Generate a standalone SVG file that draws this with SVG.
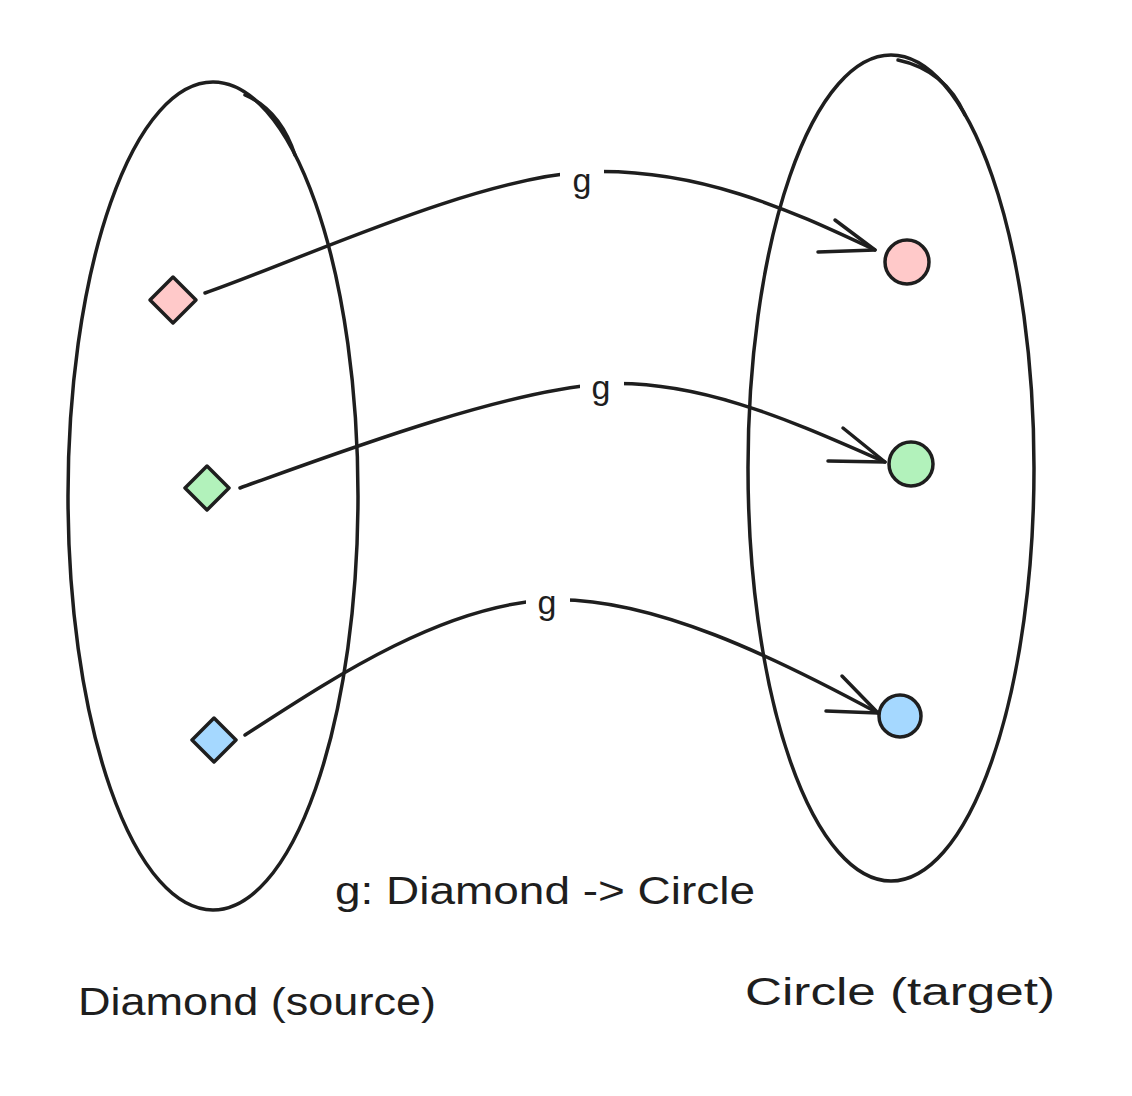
<svg xmlns="http://www.w3.org/2000/svg" width="1132" height="1096" viewBox="0 0 1132 1096">
<style>
.ln{fill:none;stroke:#1e1e1e;stroke-width:3.5;stroke-linecap:round;stroke-linejoin:round}
.nd{stroke:#1e1e1e;stroke-width:3.5;stroke-linejoin:round}
.tx{font-family:"Liberation Sans",Arial,sans-serif;fill:#1e1e1e}
</style>
<rect width="1132" height="1096" fill="#ffffff"/>
<g id="set-source">
<ellipse class="ln" cx="213" cy="496" rx="145" ry="414"/>
<path class="ln" d="M245 95 Q280 110 295 155"/>
</g>
<g id="set-target">
<ellipse class="ln" cx="891" cy="468" rx="143" ry="413"/>
<path class="ln" d="M898 60 Q945 70 965 115"/>
</g>
<g id="connectors">
<path class="ln" d="M205 293 C300 260 470 180 582 172 C700 166 800 215 875 250"/>
<path class="ln" d="M835 220 L875 250 L818 252"/>
<path class="ln" d="M240 488 C340 452 500 392 601 384 C700 378 800 425 885 462"/>
<path class="ln" d="M843 428 L885 462 L828 461"/>
<path class="ln" d="M245 735 C330 680 440 606 547 600 C650 595 780 660 878 713"/>
<path class="ln" d="M842 676 L878 713 L826 711"/>
<rect x="560" y="160" width="44" height="40" fill="#fff"/>
<text class="tx" x="582" y="192" font-size="34" text-anchor="middle">g</text>
<rect x="580" y="368" width="44" height="40" fill="#fff"/>
<text class="tx" x="601" y="399" font-size="34" text-anchor="middle">g</text>
<rect x="526" y="585" width="44" height="40" fill="#fff"/>
<text class="tx" x="547" y="614" font-size="34" text-anchor="middle">g</text>
</g>
<g id="diamond-pink"><polygon class="nd" fill="#ffc9c9" points="173,277 196,300 173,323 150,300"/></g>
<g id="diamond-green"><polygon class="nd" fill="#b2f2bb" points="207,466 229,488 207,510 185,488"/></g>
<g id="diamond-blue"><polygon class="nd" fill="#a5d8ff" points="214,718 236,740 214,762 192,740"/></g>
<g id="circle-pink"><circle class="nd" fill="#ffc9c9" cx="907" cy="262" r="22"/></g>
<g id="circle-green"><circle class="nd" fill="#b2f2bb" cx="911" cy="464" r="22"/></g>
<g id="circle-blue"><circle class="nd" fill="#a5d8ff" cx="900" cy="716" r="21"/></g>
<g id="labels">
<text class="tx" x="335" y="904" font-size="38" textLength="420" lengthAdjust="spacingAndGlyphs">g: Diamond -&gt; Circle</text>
<text class="tx" x="78" y="1015" font-size="38" textLength="358" lengthAdjust="spacingAndGlyphs">Diamond (source)</text>
<text class="tx" x="745" y="1005" font-size="38" textLength="310" lengthAdjust="spacingAndGlyphs">Circle (target)</text>
</g>
</svg>
